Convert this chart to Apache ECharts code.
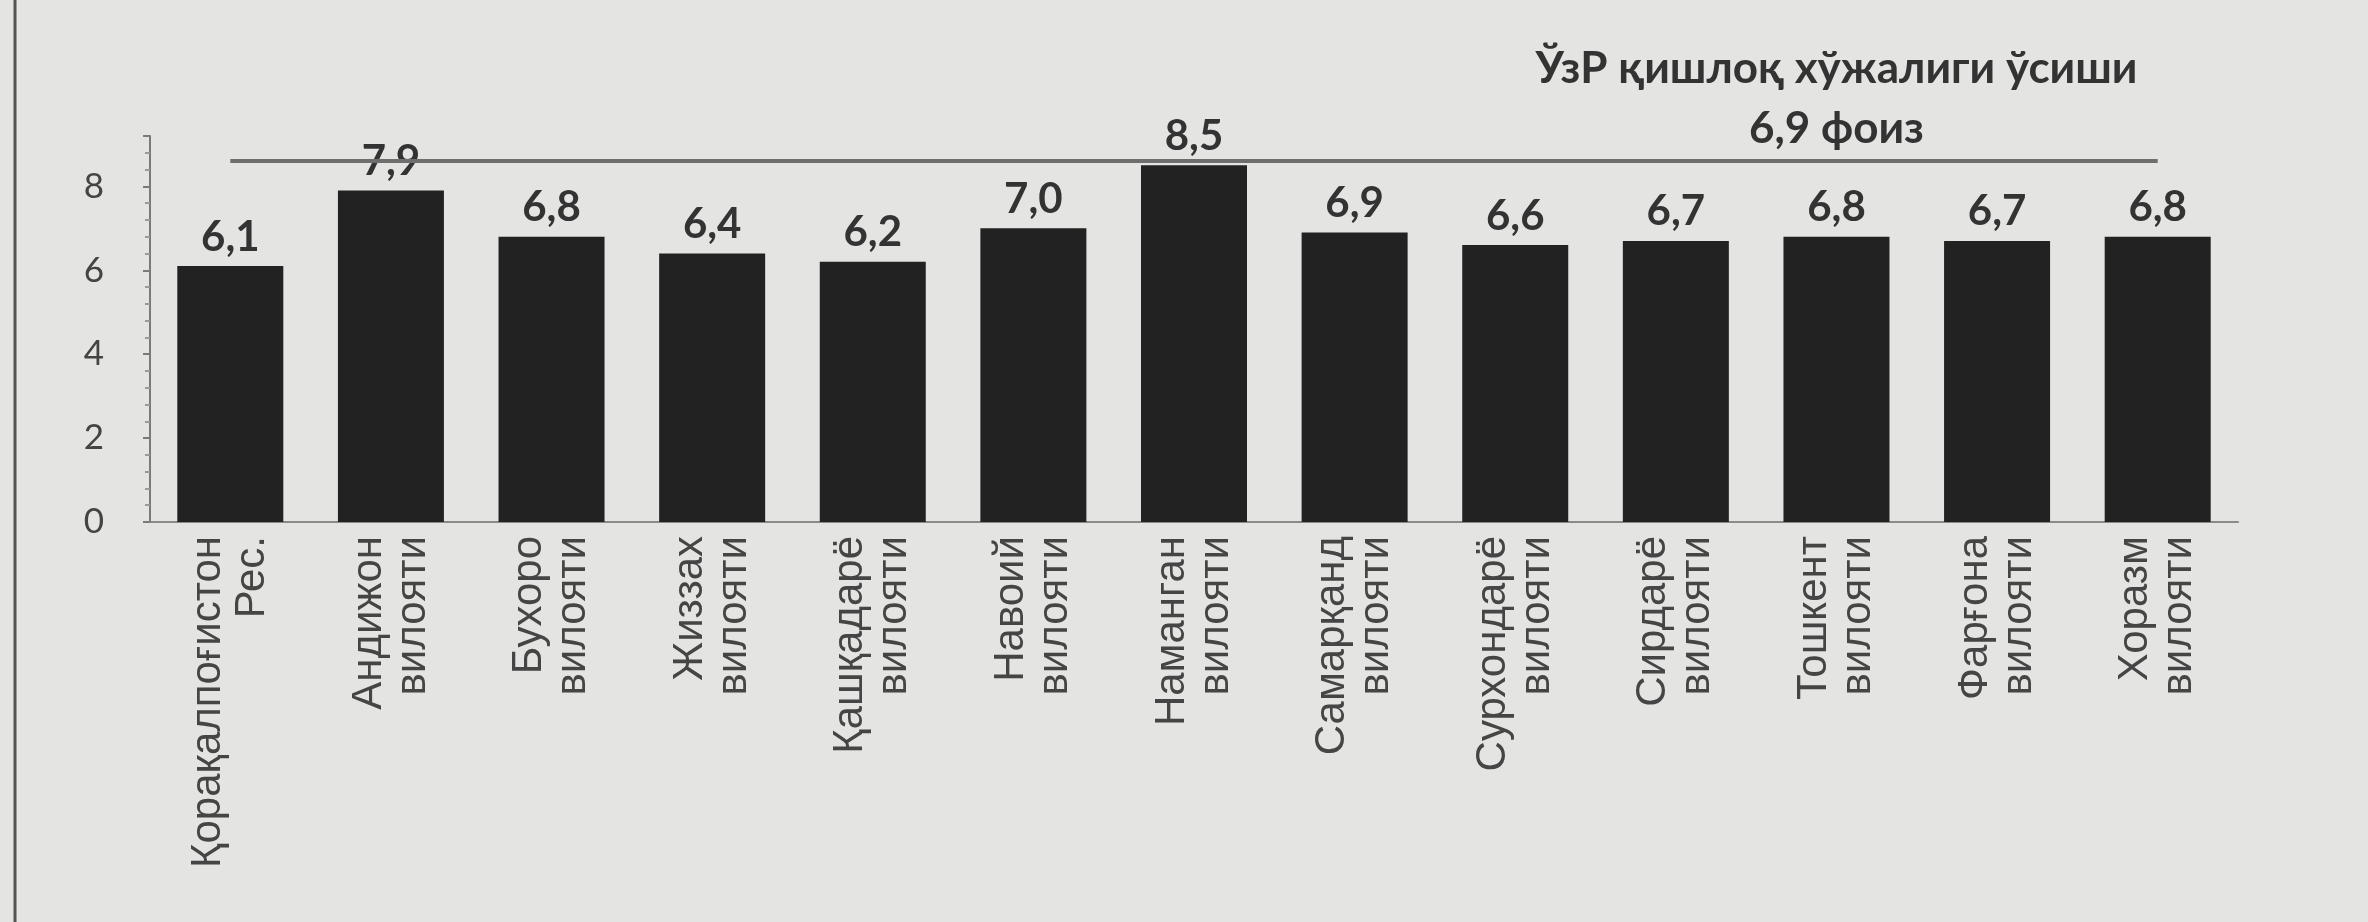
<!DOCTYPE html>
<html>
<head>
<meta charset="utf-8">
<script src="https://cdn.jsdelivr.net/npm/echarts@6/dist/echarts.min.js"></script>
<style>
html,body{margin:0;padding:0;background:#e4e4e2;}
#c{width:2368px;height:922px;}
</style>
</head>
<body>
<div id="c"></div>
<script>
const categories = [
  "Қорақалпоғистон\nРес.",
  "Андижон\nвилояти",
  "Бухоро\nвилояти",
  "Жиззах\nвилояти",
  "Қашқадарё\nвилояти",
  "Навоий\nвилояти",
  "Наманган\nвилояти",
  "Самарқанд\nвилояти",
  "Сурхондарё\nвилояти",
  "Сирдарё\nвилояти",
  "Тошкент\nвилояти",
  "Фарғона\nвилояти",
  "Хоразм\nвилояти"
];
const growth = [6.1, 7.9, 6.8, 6.4, 6.2, 7.0, 8.5, 6.9, 6.6, 6.7, 6.8, 6.7, 6.8];
const refLineLevel = 8.6;
const refLineText = "ЎзР қишлоқ хўжалиги ўсиши\n6,9 фоиз";
const refLabelCategory = 10;
const yTicks = [0, 2, 4, 6, 8];

const chart = echarts.init(document.getElementById('c'));
chart.setOption({
  backgroundColor: '#e4e4e2',
  animation: false,
  graphic: [{
    type: 'line', shape: {x1: 15, y1: 0, x2: 15, y2: 922},
    style: {stroke: '#555', lineWidth: 3}
  }],
  grid: {left: 150, right: 130, top: 136, bottom: 400, containLabel: false},
  xAxis: {
    type: 'category',
    data: categories,
    axisLine: {lineStyle: {color: '#8a8a8a', width: 2}},
    axisTick: {show: false},
    axisLabel: {
      rotate: 90,
      interval: 0,
      margin: 14,
      color: '#454545',
      fontFamily: 'Liberation Sans, Arial, sans-serif',
      fontSize: 42,
      lineHeight: 44
    }
  },
  yAxis: {
    type: 'value',
    min: 0,
    max: 9.2,
    interval: 2,
    splitLine: {show: false},
    axisLine: {show: true, lineStyle: {color: '#7a7a7a', width: 2}},
    axisTick: {show: true, length: 7, lineStyle: {color: '#7a7a7a', width: 2}},
    minorTick: {show: true, splitNumber: 5, length: 5, lineStyle: {color: '#9a9a9a', width: 2}},
    axisLabel: {
      margin: 46,
      color: '#444',
      fontFamily: 'Lato, "Open Sans", sans-serif',
      fontSize: 35,
      showMaxLabel: false,
      formatter: function (v) { return yTicks.indexOf(v) >= 0 ? String(v) : ''; }
    }
  },
  series: [{
    type: 'bar',
    data: growth,
    barCategoryGap: '34%',
    itemStyle: {color: '#222'},
    label: {
      show: true,
      position: 'top',
      distance: 8,
      color: '#333',
      fontFamily: 'Lato, "Open Sans", sans-serif',
      fontWeight: 'bold',
      fontSize: 42,
      formatter: function (p) { return p.value.toFixed(1).replace('.', ','); }
    },
    markLine: {
      silent: true,
      symbol: ['none', 'none'],
      lineStyle: {color: '#6e6e6e', width: 4, type: 'solid'},
      label: {show: false},
      data: [[
        {coord: [0, refLineLevel]},
        {coord: [categories.length - 1, refLineLevel]}
      ]]
    },
    markPoint: {
      symbol: 'circle',
      symbolSize: 0,
      silent: true,
      label: {
        show: true,
        position: 'top',
        distance: 2,
        formatter: refLineText,
        color: '#333',
        fontFamily: 'Lato, "Open Sans", sans-serif',
        fontWeight: 'bold',
        fontSize: 44,
        lineHeight: 60,
        align: 'center'
      },
      data: [{coord: [refLabelCategory, refLineLevel]}]
    }
  }]
});
</script>
</body>
</html>
